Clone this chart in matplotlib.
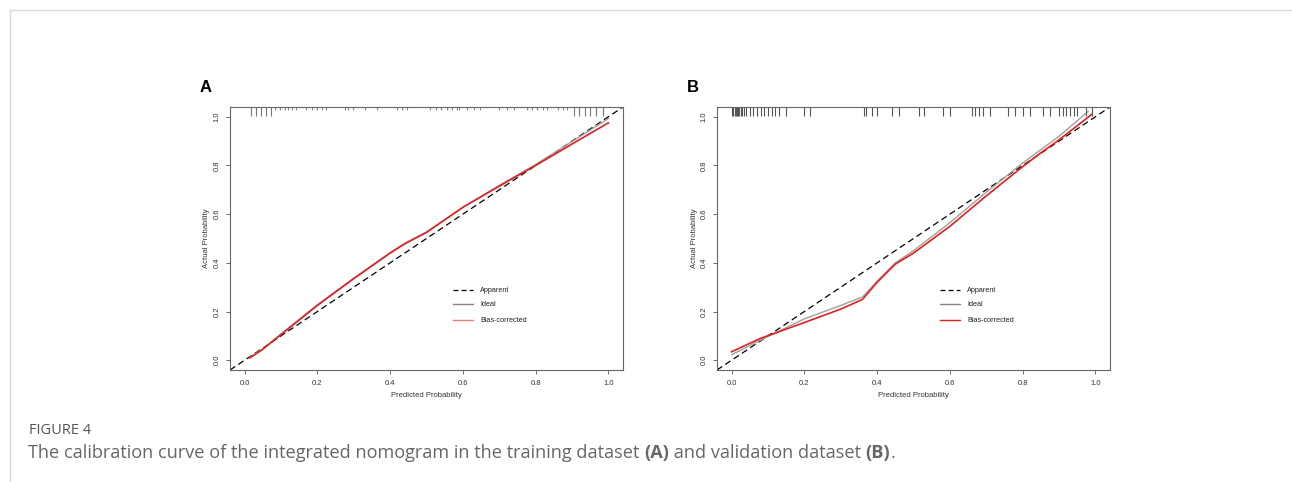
import matplotlib
matplotlib.use("Agg")
import matplotlib.pyplot as plt
from matplotlib.lines import Line2D
import numpy as np

plt.rcParams['font.family'] = ['Liberation Sans', 'DejaVu Sans']

# ---------------- data ----------------
# Panel A (training)
a_bias_x = [0.015, 0.05, 0.1, 0.2, 0.3, 0.4, 0.44, 0.5, 0.6, 0.7, 0.8, 0.9, 1.0]
a_bias_y = [0.01, 0.045, 0.105, 0.225, 0.335, 0.44, 0.478, 0.525, 0.628, 0.715, 0.80, 0.888, 0.975]
a_app_x = [0.015, 0.05, 0.1, 0.2, 0.3, 0.4, 0.44, 0.5, 0.6, 0.7, 0.8, 0.9, 1.0]
a_app_y = [0.012, 0.047, 0.108, 0.228, 0.337, 0.442, 0.48, 0.527, 0.628, 0.718, 0.804, 0.898, 0.993]
a_rug_tall = [0.017, 0.031, 0.045, 0.059, 0.072, 0.905, 0.92, 0.935, 0.95, 0.965, 0.985]
a_rug_short = [0.083, 0.097, 0.11, 0.12, 0.13, 0.142, 0.17, 0.185, 0.2, 0.212, 0.225, 0.275,
               0.285, 0.298, 0.33, 0.364, 0.42, 0.433, 0.446, 0.51, 0.525, 0.54, 0.555, 0.57,
               0.584, 0.59, 0.61, 0.63, 0.647, 0.70, 0.72, 0.74, 0.777, 0.79, 0.805, 0.82,
               0.832, 0.86, 0.875, 0.887]

# Panel B (validation)
b_bias_x = [0.0, 0.08, 0.2, 0.3, 0.36, 0.40, 0.45, 0.5, 0.6, 0.7, 0.8, 0.85, 0.9, 0.99]
b_bias_y = [0.035, 0.09, 0.155, 0.21, 0.25, 0.32, 0.395, 0.44, 0.55, 0.675, 0.795, 0.852, 0.905, 1.01]
b_app_x = [0.0, 0.08, 0.2, 0.3, 0.36, 0.40, 0.45, 0.5, 0.6, 0.7, 0.8, 0.85, 0.9, 0.98]
b_app_y = [0.022, 0.083, 0.17, 0.225, 0.26, 0.325, 0.40, 0.45, 0.565, 0.69, 0.81, 0.865, 0.92, 1.022]
b_rug = [0.0, 0.005, 0.01, 0.012, 0.015, 0.018, 0.02, 0.025, 0.03, 0.035, 0.04, 0.05, 0.06,
         0.07, 0.08, 0.09, 0.1, 0.11, 0.12, 0.13, 0.15, 0.20, 0.215, 0.365, 0.37, 0.385, 0.40,
         0.44, 0.46, 0.515, 0.53, 0.58, 0.60, 0.66, 0.67, 0.68, 0.69, 0.71, 0.76, 0.78, 0.80,
         0.82, 0.855, 0.875, 0.90, 0.91, 0.92, 0.93, 0.94, 0.95, 0.975, 0.99]

ticks = [0.0, 0.2, 0.4, 0.6, 0.8, 1.0]
tick_labels = ["0.0", "0.2", "0.4", "0.6", "0.8", "1.0"]
legend_labels = ["Apparent", "Ideal", "Bias-corrected"]

# ---------------- figure ----------------
W, H = 1292, 482
fig = plt.figure(figsize=(W / 100, H / 100), dpi=100)

# card border
fig.add_artist(Line2D([10 / W, 1.0], [1 - 10 / H, 1 - 10 / H], color="#d8d8d8", lw=1))
fig.add_artist(Line2D([10 / W, 10 / W], [0, 1 - 10 / H], color="#d8d8d8", lw=1))


def panel(rect, bias_x, bias_y, app_x, app_y, legend_red, label, rug_specs):
    ax = fig.add_axes(rect)
    ax.set_xlim(-0.04, 1.04)
    ax.set_ylim(-0.04, 1.04)
    ax.plot([-0.04, 1.04], [-0.04, 1.04], color="black", lw=0.9, ls=(0, (5, 3)))
    ax.plot(app_x, app_y, color="#a0a0a0", lw=1.0)
    ax.plot(bias_x, bias_y, color="#e02020", lw=1.2)
    for xs, h, c in rug_specs:
        for x in xs:
            ax.plot([x, x], [1.04, 1.04 - h], color=c, lw=0.8, solid_capstyle="butt")
    ax.set_xticks(ticks)
    ax.set_xticklabels(tick_labels)
    ax.set_yticks(ticks)
    ax.set_yticklabels(tick_labels, rotation=90, va="center")
    ax.tick_params(labelsize=5.5, length=3, width=0.6, color="#555555",
                   labelcolor="#333333", pad=4)
    for s in ax.spines.values():
        s.set_color("#666666")
        s.set_linewidth(0.8)
    ax.set_xlabel("Predicted Probability", fontsize=5.5, color="#333333", labelpad=4)
    ax.set_ylabel("Actual Probability", fontsize=5.5, color="#333333", labelpad=2)
    # legend drawn in data coordinates
    ly = [0.287, 0.230, 0.164]
    styles = [dict(color="black", ls=(0, (4, 2.5)), lw=0.9),
              dict(color="#888888", ls="-", lw=1.0),
              dict(color=legend_red, ls="-", lw=1.0)]
    for y, st, t in zip(ly, styles, legend_labels):
        ax.plot([0.573, 0.628], [y, y], **st)
        ax.text(0.648, y, t, fontsize=5.2, va="center", ha="left", color="#222222")
    fig.text(rect[0] - 0.0235, 0.818, label, fontsize=12, fontweight="bold",
             ha="left", va="center")
    return ax


ax_a = panel([230 / W, 1 - 370 / H, 393 / W, 263 / H], a_bias_x, a_bias_y, a_app_x, a_app_y,
             "#ee7777", "A",
             [(a_rug_tall, 0.035, "#777777"), (a_rug_short, 0.012, "#888888")])
ax_b = panel([717 / W, 1 - 370 / H, 393 / W, 263 / H], b_bias_x, b_bias_y, b_app_x, b_app_y,
             "#e02020", "B",
             [(b_rug, 0.035, "#555555")])

# caption
fig.text(29 / W, 1 - 430 / H, "FIGURE 4", fontsize=10.5, color="#555555",
         family=["Open Sans", "DejaVu Sans"], va="center", ha="left")

renderer = fig.canvas.get_renderer()
parts = [("The calibration curve of the integrated nomogram in the training dataset ", "normal"),
         ("(A)", "bold"), (" and validation dataset ", "normal"), ("(B)", "bold"), (".", "normal")]
x = 28
for txt, wt in parts:
    t = fig.text(x / W, 1 - 453 / H, txt, fontsize=13.1, color="#666666", fontweight=wt,
                 family=["Open Sans", "DejaVu Sans"], va="center", ha="left")
    bb = t.get_window_extent(renderer=renderer)
    x += bb.width

fig.savefig("out.png", dpi=100)
